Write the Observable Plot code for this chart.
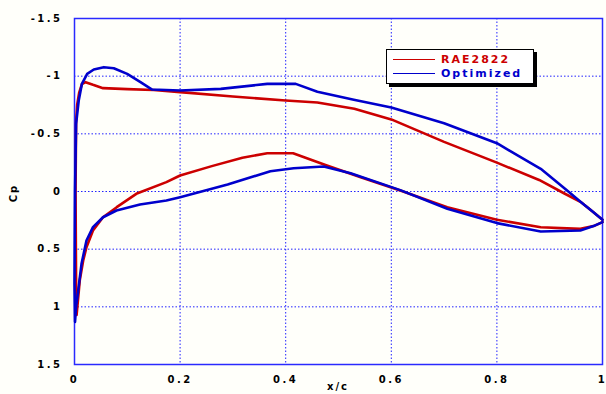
<!DOCTYPE html>
<html><head><meta charset="utf-8">
<script src="https://cdn.jsdelivr.net/npm/d3@7"></script>
<script src="https://cdn.jsdelivr.net/npm/@observablehq/plot@0.6"></script>
<style>
html,body{margin:0;padding:0;background:#fffffa;}
#wrap{position:relative;width:606px;height:394px;overflow:hidden;background:#fffffa;font-family:"DejaVu Sans",sans-serif;font-weight:bold;}
#legend{position:absolute;left:386px;top:49px;width:146px;height:33px;border:1px solid #000;background:#fff;box-shadow:3px 3px 0 #000;}
.lg-line{position:absolute;left:6px;width:42px;height:0;border-top:1.5px solid;}
.lg-text{position:absolute;left:54px;font-size:11px;line-height:12px;letter-spacing:2px;}
.axlabel{position:absolute;font-size:10px;line-height:10px;letter-spacing:2px;color:#000;white-space:nowrap;}
</style></head><body><div id="wrap"></div>
<script>
const xTicks = [0, 0.2, 0.4, 0.6, 0.8, 1];
const xTickLabels = ["0", "0.2", "0.4", "0.6", "0.8", "1"];
const yTicks = [-1.5, -1, -0.5, 0, 0.5, 1, 1.5];
const yTickLabels = ["-1.5", "-1", "-0.5", "0", "0.5", "1", "1.5"];
const seriesNames = ["RAE2822", "Optimized"];
const seriesColors = ["#cc0000", "#0000cc"];
const xLabel = "x/c";
const yLabel = "Cp";

// RAE2822: trailing edge -> upper surface -> leading edge -> lower surface -> trailing edge
const raeX = [1.0, 0.98, 0.96, 0.927, 0.88, 0.8, 0.7, 0.6, 0.53, 0.46, 0.4, 0.3, 0.2, 0.15, 0.1, 0.054, 0.035, 0.021, 0.014, 0.009, 0.005, 0.003, 0.002, 0.003, 0.004, 0.01, 0.0164, 0.0227, 0.035, 0.054, 0.08, 0.117, 0.174, 0.2, 0.26, 0.318, 0.365, 0.414, 0.478, 0.542, 0.617, 0.706, 0.8, 0.883, 0.958, 0.983, 1.0];
const raeCp = [0.245, 0.17, 0.095, 0.015, -0.1, -0.25, -0.43, -0.625, -0.717, -0.772, -0.789, -0.824, -0.862, -0.88, -0.888, -0.896, -0.925, -0.948, -0.93, -0.86, -0.75, -0.6, 0.0, 0.8, 1.07, 0.77, 0.6, 0.483, 0.338, 0.223, 0.136, 0.02, -0.081, -0.139, -0.22, -0.292, -0.332, -0.332, -0.225, -0.124, -0.009, 0.136, 0.245, 0.31, 0.324, 0.3, 0.266];

// Optimized
const optX = [1.0, 0.98, 0.96, 0.933, 0.883, 0.84, 0.8, 0.7, 0.6, 0.529, 0.46, 0.419, 0.365, 0.277, 0.2, 0.147, 0.125, 0.0998, 0.0744, 0.0555, 0.0366, 0.024, 0.014, 0.008, 0.003, 0.001, 0.0, 0.001, 0.003, 0.007, 0.0133, 0.0227, 0.035, 0.054, 0.0795, 0.124, 0.174, 0.2, 0.29, 0.371, 0.415, 0.472, 0.523, 0.617, 0.706, 0.8, 0.883, 0.958, 0.983, 1.0];
const optCp = [0.245, 0.17, 0.095, -0.009, -0.197, -0.31, -0.419, -0.592, -0.728, -0.795, -0.865, -0.933, -0.933, -0.89, -0.876, -0.884, -0.948, -1.02, -1.069, -1.078, -1.058, -1.02, -0.933, -0.789, -0.587, 0.0, 0.8, 1.13, 1.0, 0.859, 0.627, 0.425, 0.309, 0.223, 0.165, 0.113, 0.078, 0.049, -0.06, -0.176, -0.202, -0.217, -0.159, -0.012, 0.15, 0.274, 0.347, 0.338, 0.3, 0.266];

const data = [
  ...raeX.map((x, i) => ({series: seriesNames[0], x, cp: raeCp[i]})),
  ...optX.map((x, i) => ({series: seriesNames[1], x, cp: optCp[i]}))
];

const chart = Plot.plot({
  width: 606, height: 394,
  marginLeft: 74, marginRight: 4, marginTop: 18, marginBottom: 30,
  style: {background: "transparent", fontFamily: "DejaVu Sans", fontWeight: "bold", fontSize: "10px", color: "#000", letterSpacing: "2.5px", overflow: "visible"},
  x: {domain: [0, 1]},
  y: {domain: [-1.5, 1.5], reverse: true},
  color: {domain: seriesNames, range: seriesColors},
  marks: [
    Plot.gridX(xTicks.slice(1, -1), {stroke: "#2222ff", strokeOpacity: 1, strokeWidth: 1, strokeDasharray: "1.5,2"}),
    Plot.gridY(yTicks.slice(1, -1), {stroke: "#2222ff", strokeOpacity: 1, strokeWidth: 1, strokeDasharray: "1.5,2"}),
    Plot.frame({stroke: "#2a2aff", strokeWidth: 1.5}),
    Plot.line(data, {x: "x", y: "cp", z: "series", stroke: "series", strokeWidth: 2.6, strokeLinejoin: "round"}),
    Plot.axisX({ticks: xTicks, tickFormat: (d, i) => xTickLabels[i], tickSize: 0, tickPadding: 11, label: null}),
    Plot.axisY({ticks: yTicks, tickFormat: (d, i) => yTickLabels[i], tickSize: 0, tickPadding: 12, label: null})
  ]
});

const wrap = document.getElementById("wrap");
wrap.appendChild(chart);

// Legend
const legend = document.createElement("div");
legend.id = "legend";
seriesNames.forEach((name, i) => {
  const ln = document.createElement("div");
  ln.className = "lg-line";
  ln.style.top = (9 + i * 14) + "px";
  ln.style.borderTopColor = seriesColors[i];
  legend.appendChild(ln);
  const tx = document.createElement("div");
  tx.className = "lg-text";
  tx.style.top = (3.5 + i * 14) + "px";
  tx.style.color = seriesColors[i];
  tx.textContent = name;
  legend.appendChild(tx);
});
wrap.appendChild(legend);

// Axis titles
const yl = document.createElement("div");
yl.className = "axlabel";
yl.textContent = yLabel;
yl.style.left = "14px"; yl.style.top = "193px";
yl.style.transform = "translate(-50%,-50%) rotate(-90deg)";
wrap.appendChild(yl);

const xl = document.createElement("div");
xl.className = "axlabel";
xl.textContent = xLabel;
xl.style.left = "338px"; xl.style.top = "382px";
xl.style.transform = "translateX(-50%)";
wrap.appendChild(xl);
</script>
</body></html>
